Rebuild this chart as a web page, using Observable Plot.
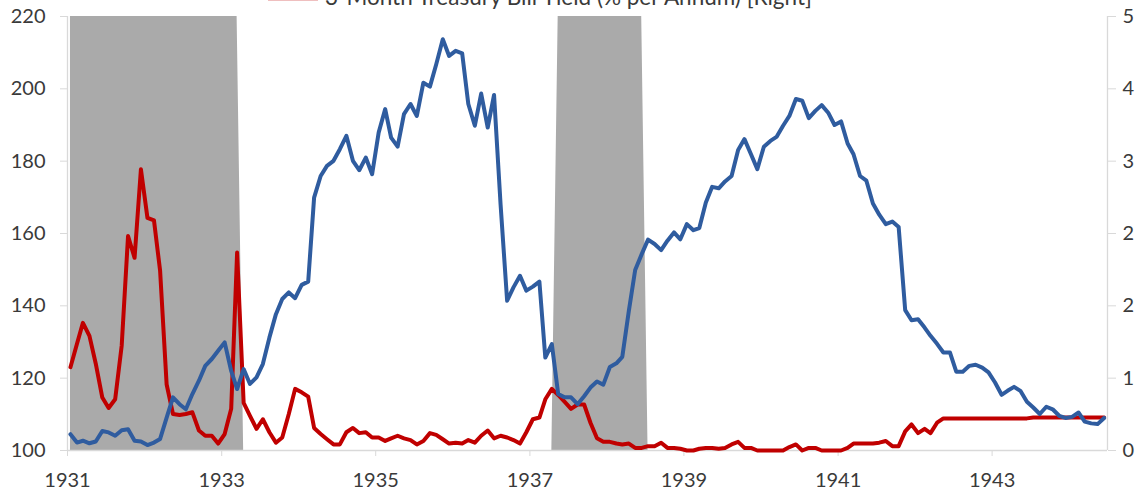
<!DOCTYPE html>
<html>
<head>
<meta charset="utf-8">
<script src="https://cdn.jsdelivr.net/npm/d3@7"></script>
<script src="https://cdn.jsdelivr.net/npm/@observablehq/plot@0.6"></script>
<style>
  html, body { margin: 0; padding: 0; background: #ffffff; }
  #chart { width: 1144px; height: 493px; overflow: hidden; }
  svg { font-family: Lato, "Open Sans", sans-serif; }
</style>
</head>
<body>
<div id="chart"></div>
<script>
// ---- Data (monthly, starting January 1931) ----
const startYear = 1931;
const startMonth = 0;

// Left axis series (index), monthly values
const leftSeries = [
  104.5, 102.2, 102.7, 102.0, 102.5, 105.4, 105.0, 104.1, 105.6, 105.9, 102.7, 102.5,
  101.5, 102.2, 103.2, 109.1, 114.7, 112.8, 111.4, 115.6, 119.3, 123.4, 125.3, 127.6,
  129.9, 122.0, 117.0, 122.5, 118.4, 120.2, 123.9, 131.2, 137.7, 141.9, 143.7, 142.1,
  145.8, 146.7, 169.9, 175.9, 178.7, 180.1, 183.3, 187.0, 180.1, 177.5, 181.0, 176.4,
  187.9, 194.4, 186.5, 184.0, 193.0, 195.8, 192.5, 201.7, 200.6, 206.8, 213.7, 209.1,
  210.5, 209.8, 195.8, 189.8, 198.7, 189.3, 198.3, 168.0, 141.4, 145.1, 148.3, 144.2,
  145.3, 146.7, 125.7, 129.4, 115.6, 114.7, 114.7, 112.8, 115.0, 117.4, 119.1, 118.2,
  123.1, 124.1, 125.9, 138.6, 149.9, 154.3, 158.3, 157.1, 155.4, 158.0, 160.3, 158.4,
  162.6, 160.9, 161.5, 168.6, 172.9, 172.5, 174.4, 175.9, 183.1, 186.1, 181.9, 177.8,
  184.0, 185.6, 186.7, 189.8, 192.5, 197.2, 196.7, 191.9, 193.9, 195.5, 193.4, 190.0,
  191.0, 184.9, 181.9, 175.9, 174.6, 168.3, 165.2, 162.6, 163.3, 161.8, 138.8, 136.0,
  136.3, 134.0, 131.7, 129.5, 127.1, 127.1, 121.8, 121.8, 123.4, 123.7, 122.9, 121.6,
  118.8, 115.4, 116.5, 117.6, 116.5, 113.5, 111.9, 110.1, 112.1, 111.4, 109.6, 109.0,
  109.3, 110.5, 108.0, 107.5, 107.3, 109.0
];

// 3-Month Treasury Bill Yield (% per annum), right axis
const tbillYield = [
  0.96, 1.23, 1.47, 1.32, 1.00, 0.61, 0.49, 0.59, 1.21, 2.47, 2.22, 3.24,
  2.68, 2.65, 2.07, 0.76, 0.42, 0.41, 0.42, 0.44, 0.23, 0.17, 0.17, 0.08,
  0.19, 0.48, 2.28, 0.55, 0.40, 0.25, 0.36, 0.21, 0.09, 0.15, 0.42, 0.71,
  0.67, 0.62, 0.26, 0.19, 0.13, 0.07, 0.07, 0.21, 0.26, 0.20, 0.21, 0.15,
  0.15, 0.11, 0.14, 0.17, 0.14, 0.12, 0.07, 0.11, 0.20, 0.18, 0.13, 0.08,
  0.09, 0.08, 0.12, 0.09, 0.17, 0.23, 0.14, 0.17, 0.15, 0.12, 0.08, 0.21,
  0.36, 0.38, 0.59, 0.71, 0.64, 0.56, 0.48, 0.53, 0.53, 0.32, 0.14, 0.10,
  0.10, 0.08, 0.07, 0.08, 0.03, 0.03, 0.05, 0.05, 0.09, 0.03, 0.03, 0.02,
  0.00, 0.00, 0.02, 0.03, 0.03, 0.02, 0.03, 0.07, 0.10, 0.03, 0.03, 0.00,
  0.00, 0.00, 0.00, 0.00, 0.04, 0.07, 0.00, 0.03, 0.03, 0.00, 0.00, 0.00,
  0.00, 0.03, 0.08, 0.08, 0.08, 0.08, 0.09, 0.11, 0.05, 0.05, 0.22, 0.30,
  0.20, 0.25, 0.20, 0.32, 0.37, 0.37, 0.37, 0.37, 0.37, 0.37, 0.37, 0.37,
  0.37, 0.37, 0.37, 0.37, 0.37, 0.37, 0.38, 0.38, 0.38, 0.38, 0.38, 0.38,
  0.38, 0.38, 0.38, 0.38, 0.38, 0.38
];

// NBER recessions (first month, last month)
const recessionStarts = ["1929-08", "1937-05"];
const recessionEnds   = ["1933-03", "1938-06"];

// Axis ticks
const leftTicks = [100, 120, 140, 160, 180, 200, 220];
const rightTickLabels = ["0", "1", "2", "2", "3", "4", "5"];
const xTickYears = [1931, 1933, 1935, 1937, 1939, 1941, 1943];
const legendLabel = "3-Month Treasury Bill Yield (% per Annum) [Right]";

// ---- Build table ----
const leftMin = 100, leftMax = 220, rightMax = 5;
const toLeft = v => leftMin + v * (leftMax - leftMin) / rightMax;
const monthKey = (y, m) => y * 12 + m;
const recRanges = recessionStarts.map((s, k) => {
  const [sy, sm] = s.split("-").map(Number);
  const [ey, em] = recessionEnds[k].split("-").map(Number);
  return [monthKey(sy, sm - 1), monthKey(ey, em - 1)];
});
const rows = leftSeries.map((v, i) => {
  const key = monthKey(startYear, startMonth + i);
  return {
    date: new Date(Date.UTC(startYear, startMonth + i, 15)),
    left: v,
    tb: tbillYield[i],
    rec: recRanges.some(([a, b]) => key >= a && key <= b)
  };
});

const xDomain = [new Date(Date.UTC(1931, 0, 1)), new Date(Date.UTC(1944, 6, 1))];
const axisColor = "#d9d9d9";
const textColor = "#3a3a3a";

const chart = Plot.plot({
  width: 1144,
  height: 493,
  marginLeft: 67,
  marginRight: 37,
  marginTop: 16,
  marginBottom: 43,
  style: { fontFamily: "Lato, 'Open Sans', sans-serif", fontSize: "20px", color: textColor, background: "#ffffff" },
  x: { type: "utc", domain: xDomain },
  y: { domain: [leftMin, leftMax] },
  marks: [
    Plot.areaY(rows, { x: "date", y1: leftMin, y2: d => d.rec ? leftMax : leftMin, fill: "#aaaaaa", curve: "linear" }),
    Plot.ruleY([leftMin], { stroke: axisColor, strokeWidth: 1.3 }),
    Plot.ruleX([xDomain[0]], { stroke: axisColor, strokeWidth: 1.3 }),
    Plot.ruleX([xDomain[1]], { stroke: axisColor, strokeWidth: 1.3 }),
    Plot.axisY({ anchor: "left", ticks: leftTicks, tickSize: 7, tickPadding: 15, stroke: axisColor, fill: textColor, label: null, tickFormat: d => String(d) }),
    Plot.axisY({ anchor: "right", ticks: leftTicks, tickSize: 8, tickPadding: 7, stroke: axisColor, fill: textColor, label: null, tickFormat: (d, i) => rightTickLabels[i] }),
    Plot.axisX({ anchor: "bottom", ticks: xTickYears.map(y => new Date(Date.UTC(y, 0, 1))), tickSize: 6, tickPadding: 16, stroke: axisColor, fill: textColor, label: null, tickFormat: d => String(d.getUTCFullYear()) }),
    Plot.lineY(rows, { x: "date", y: d => toLeft(d.tb), stroke: "#c00000", strokeWidth: 4, strokeLinejoin: "round" }),
    Plot.lineY(rows, { x: "date", y: "left", stroke: "#2f5c9f", strokeWidth: 4, strokeLinejoin: "round" })
  ]
});

// Legend (partially cut by the top edge, as in the source image)
const svg = d3.select(chart);
svg.append("line")
  .attr("x1", 268).attr("x2", 318).attr("y1", -1.6).attr("y2", -1.6)
  .attr("stroke", "#c00000").attr("stroke-width", 3.5);
svg.append("text")
  .attr("x", 325).attr("y", 5)
  .attr("text-anchor", "start")
  .attr("fill", textColor)
  .attr("font-size", 22.5)
  .attr("font-family", "Lato, 'Open Sans', sans-serif")
  .text(legendLabel);

document.getElementById("chart").appendChild(chart);
</script>
</body>
</html>
